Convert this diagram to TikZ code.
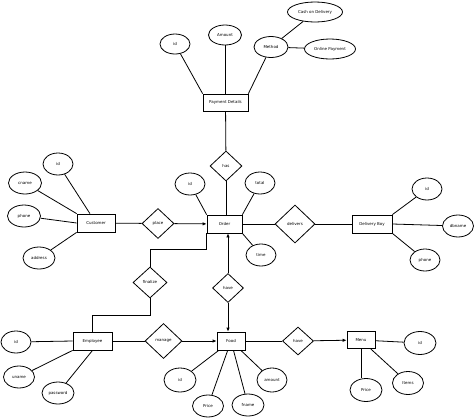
\documentclass[tikz,border=0pt]{standalone}
\usepackage{fontspec}
\setmainfont{DejaVu Sans}
\usetikzlibrary{shapes.geometric,arrows.meta,calc}

\begin{document}
\begin{tikzpicture}[x=1pt,y=-1pt,line width=0.8pt,
	font=\fontsize{4}{5}\selectfont,
	ent/.style={draw,rectangle,minimum width=#1,minimum height=18pt,inner sep=0pt},
	attr/.style={draw,ellipse,minimum width=31pt,minimum height=22pt,inner sep=0pt},
	rel/.style={draw,diamond,minimum width=32pt,minimum height=30pt,inner sep=0pt,aspect=1},
	arr/.style={-{Latex[length=4pt,width=3.5pt]}}]
	\useasboundingbox (0,0) rectangle (474,418);
	%\draw[help lines,step=50] (0,0) grid (474,418);
	%ENTITIES
	\node[ent=45pt,minimum height=17pt] (PD) at (225.5,102.5) {Payment Details};
	\node[ent=35pt] (Order) at (224.5,224) {Order};
	\node[ent=38pt] (Customer) at (96,223) {Customer};
	\node[ent=40pt] (DB) at (372,224) {Delivery Boy};
	\node[ent=39pt] (Employee) at (92.5,341) {Employee};
	\node[ent=28pt] (Food) at (231,341) {Food};
	\node[ent=28pt,minimum height=17pt] (Menu) at (361,340) {Menu};
	%RELATIONS
	\node[rel] (has) at (226,166) {has};
	\node[rel] (place) at (158,223.5) {place};
	\node[rel,minimum width=40pt,minimum height=38pt] (delivers) at (295,224) {delivers};
	\node[rel,minimum width=34pt,minimum height=31pt] (finalize) at (150,282.5) {finalize};
	\node[rel,minimum width=31pt,minimum height=29pt] (have) at (228,288) {have};
	\node[rel,minimum width=37pt,minimum height=35pt] (manage) at (163.5,341) {manage};
	\node[rel,minimum width=31pt,minimum height=28pt] (haveM) at (298,341) {have};
	%ATTRIBUTES
	\node[attr,minimum width=30pt,minimum height=20pt] (pid) at (175,44) {id};
	\node[attr,minimum width=33pt,minimum height=20pt] (pamount) at (225,35) {Amount};
	\node[attr,minimum width=34pt,minimum height=21pt] (method) at (271,47) {Method};
	\node[attr,minimum width=55pt,minimum height=20pt] (cod) at (315,12) {Cash on Delivery};
	\node[attr,minimum width=51pt,minimum height=20pt] (online) at (330,49) {Online Payment};
	\node[attr,minimum width=30pt] (oid) at (190,184) {id};
	\node[attr,minimum width=30pt] (total) at (260,183) {total};
	\node[attr,minimum width=30pt] (time) at (261,255) {time};
	\node[attr,minimum width=30pt] (cid) at (58,164) {id};
	\node[attr,minimum width=33pt] (cname) at (25,183) {cname};
	\node[attr,minimum width=33pt] (cphone) at (24,216) {phone};
	\node[attr,minimum width=32pt] (address) at (39,258) {address};
	\node[attr,minimum width=30pt] (dbid) at (427,189) {id};
	\node[attr,minimum width=31pt] (dbname) at (458,226) {dbname};
	\node[attr,minimum width=30pt] (dbphone) at (425,260) {phone};
	\node[attr,minimum width=30pt] (eid) at (16,342) {id};
	\node[attr] (uname) at (19,377) {uname};
	\node[attr,minimum width=32pt] (password) at (58,393) {password};
	\node[attr,minimum width=32pt,minimum height=24pt] (fid) at (180,380) {id};
	\node[attr] (fprice) at (208,406) {Price};
	\node[attr,minimum width=32pt] (fname) at (248,405) {fname};
	\node[attr,minimum width=30pt,minimum height=24pt] (famount) at (272,380) {amount};
	\node[attr,minimum width=32pt,minimum height=23pt] (mid) at (420,343) {id};
	\node[attr,minimum height=23pt] (items) at (408,383) {Items};
	\node[attr,minimum width=32pt,minimum height=23pt] (mprice) at (366,390) {Price};
	%LINKS
	\draw (pid) -- (PD.north west);
	\draw (pamount) -- (pamount |- PD.north);
	\draw (method) -- (PD.north east);
	\draw (method) -- (cod);
	\draw (method) -- (online);
	\draw (PD) -- (has);
	\draw (has) -- (has |- Order.north);
	\draw (oid) -- (Order.north west);
	\draw (total) -- (Order.north east);
	\draw (time) -- (Order.south east);
	\draw (cid) -- (Customer);
	\draw (cname) -- (Customer.north west);
	\draw (cphone) -- (Customer.west);
	\draw (address) -- (Customer.south west);
	\draw (Customer) -- (place);
	\draw[arr] (place) -- (Order);
	\draw (Order) -- (delivers);
	\draw (delivers) -- (DB);
	\draw (dbid) -- (DB.north east);
	\draw (dbname) -- (DB.east);
	\draw (dbphone) -- (DB.south east);
	\draw (finalize.north) -- ++(0,-17) -| (Order.south west);
	\draw (finalize.south) -- ++(0,17) -| (Employee.north);
	\draw[arr] (have) -- (have |- Order.south);
	\draw[arr] (have) -- (have |- Food.north);
	\draw (eid) -- (Employee.west);
	\draw (uname) -- (Employee.south west);
	\draw (password) -- (Employee.south);
	\draw (Employee) -- (manage);
	\draw[arr] (manage) -- (Food);
	\draw (fid) -- (Food);
	\draw (fprice) -- (Food);
	\draw (fname) -- (Food);
	\draw (famount) -- (Food);
	\draw (Food) -- (haveM);
	\draw[arr] (haveM) -- (Menu);
	\draw (mid) -- (Menu);
	\draw (items) -- (Menu);
	\draw (Menu.south) -- (Menu.south |- mprice.north);
\end{tikzpicture}
\end{document}
